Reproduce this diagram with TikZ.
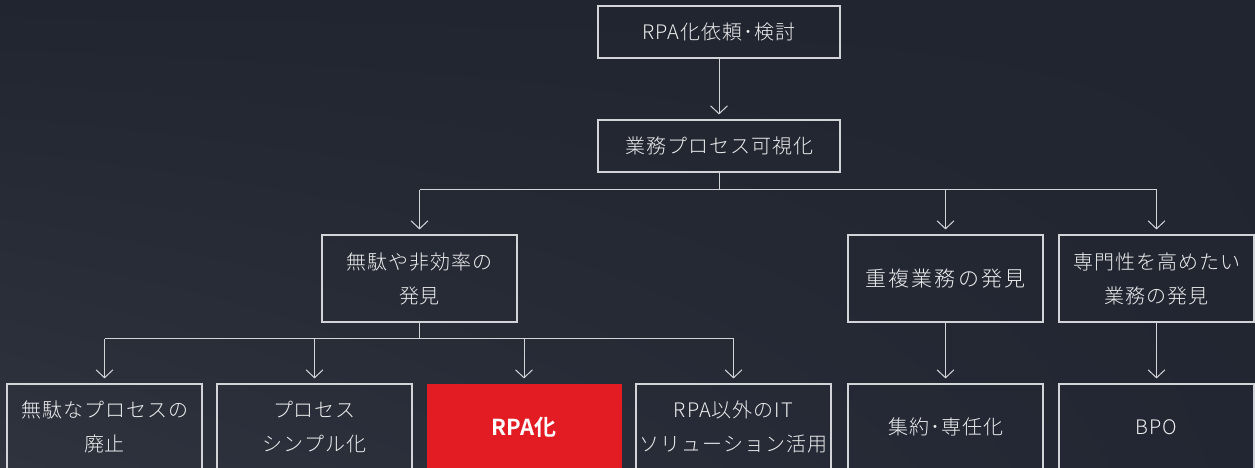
\documentclass[tikz,border=0pt]{standalone}
\usepackage{fontspec}
\setmainfont{Noto Sans CJK JP Light}[LetterSpace=5, BoldFont={Noto Sans CJK JP Bold}]
\usetikzlibrary{arrows.meta,shadings}
\definecolor{bgTL}{HTML}{20252F}
\definecolor{bgTR}{HTML}{20252F}
\definecolor{bgBL}{HTML}{2E333E}
\definecolor{bgBR}{HTML}{212632}
\definecolor{lineC}{HTML}{D2D4D8}
\definecolor{textC}{HTML}{EEEEEE}
\definecolor{redC}{HTML}{E31B23}
\begin{document}
\begin{tikzpicture}[x=1pt,y=-1pt,
  box/.style={draw=lineC, line width=1.1pt, minimum width=195pt, minimum height=87pt,
    text=textC, align=center, inner sep=0pt, font=\fontsize{20}{34}\selectfont},
  widebox/.style={box, minimum width=242pt, minimum height=52pt},
  redbox/.style={box, draw=none, fill=redC, text=white, font=\fontsize{22}{34}\selectfont\bfseries\addfontfeature{LetterSpace=0}},
  conn/.style={draw=lineC, line width=1pt},
  arr/.style={conn, -{Straight Barb[length=8pt,width=17pt,line width=1pt]}, shorten >=5pt}]
\useasboundingbox (0,0) rectangle (1255,468);
\shade[upper left=bgTL, upper right=bgTR, lower left=bgBL, lower right=bgBR] (0,0) rectangle (1255,468);

\node[widebox] (top) at (719,32) {RPA化依頼･検討};
\node[widebox] (vis) at (719,146) {業務プロセス可視化};

\node[box] (muda) at (419.5,278.5) {無駄や非効率の\\発見};
\node[box] (jufuku) at (945.5,278.5) {\fontsize{21}{34}\selectfont\addfontfeature{LetterSpace=10}重複業務の発見};
\node[box] (senmon) at (1156.5,278.5) {専門性を高めたい\\業務の発見};

\node[box, minimum height=86pt] (b1) at (104.5,427) {無駄なプロセスの\\廃止};
\node[box, minimum height=86pt] (b2) at (314.5,427) {プロセス\\シンプル化};
\node[redbox, minimum height=86pt] (b3) at (524,427) {RPA化};
\node[box, minimum height=86pt] (b4) at (733.5,427) {RPA以外のIT\\ソリューション活用};
\node[box, minimum height=86pt] (b5) at (945.5,427) {集約･専任化};
\node[box, minimum height=86pt] (b6) at (1156.5,427) {BPO};

\draw[arr] (top.south) -- (vis.north);

\draw[conn] (vis.south) -- ++(0,17) coordinate (j1);
\draw[conn] (j1 -| muda.north) -- (j1 -| senmon.north);
\draw[arr] (j1 -| muda.north) -- (muda.north);
\draw[arr] (j1 -| jufuku.north) -- (jufuku.north);
\draw[arr] (j1 -| senmon.north) -- (senmon.north);

\draw[conn] (muda.south) -- ++(0,16) coordinate (j2);
\draw[conn] (j2 -| b1.north) -- (j2 -| b4.north);
\draw[arr] (j2 -| b1.north) -- (b1.north);
\draw[arr] (j2 -| b2.north) -- (b2.north);
\draw[arr] (j2 -| b3.north) -- (b3.north);
\draw[arr] (j2 -| b4.north) -- (b4.north);

\draw[arr] (jufuku.south) -- (b5.north);
\draw[arr] (senmon.south) -- (b6.north);
\end{tikzpicture}
\end{document}
